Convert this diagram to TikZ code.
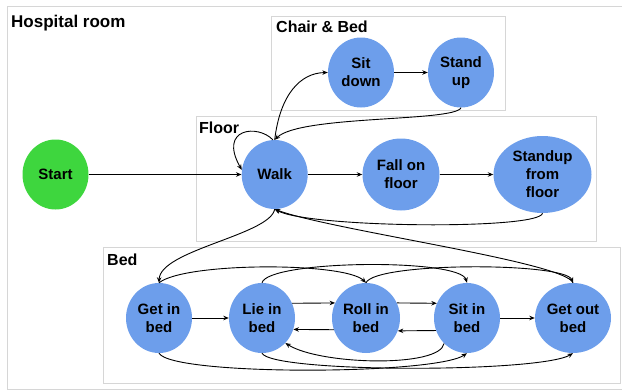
\documentclass[tikz,border=0pt]{standalone}
\usepackage{fontspec}
\setmainfont{Liberation Sans}
\usetikzlibrary{shapes.geometric,arrows.meta}
\definecolor{nodeblue}{RGB}{109,158,235}
\definecolor{startgreen}{RGB}{62,214,62}
\definecolor{boxgray}{RGB}{214,214,214}
\newcommand\nodefont{\fontsize{15}{18}\selectfont\bfseries}
\newcommand\grpfont{\fontsize{16}{19}\selectfont\bfseries}
\begin{document}
\begin{tikzpicture}[x=1pt,y=-1pt,
  state/.style={ellipse, fill=nodeblue, inner sep=0pt, align=center, font=\nodefont,
                minimum width=66pt, minimum height=70pt},
  grp/.style={draw=boxgray, line width=1pt},
  grplabel/.style={anchor=base west, inner sep=0pt, font=\grpfont},
  edge/.style={-{Stealth[length=5.5pt,width=4.5pt]}, line width=0.9pt, black},
]
\useasboundingbox (0,0) rectangle (622,391);
% group boxes
\draw[grp] (7,6) rectangle (626,389.5);
\draw[grp] (271,16) rectangle (505.5,110);
\draw[grp] (196,116.5) rectangle (596.5,241.5);
\draw[grp] (103,247.5) rectangle (620.5,383.5);
% labels
\node[grplabel, font=\fontsize{17}{20}\selectfont\bfseries] (hosp) at (11,27) {Hospital room};
\node[grplabel] (lchair) at (276,32) {Chair \& Bed};
\node[grplabel] (lfloor) at (199,133) {Floor};
\node[grplabel] (lbed) at (107,265) {Bed};
% nodes
\node[state, fill=startgreen] (start) at (55.5,174.5) {Start};
\node[state, minimum height=69pt] (walk) at (274.7,174.5) {Walk};
\node[state, minimum width=77pt, minimum height=72pt] (fall) at (401,174.5) {Fall on\\floor};
\node[state, minimum width=98pt, minimum height=77pt] (suf) at (542.5,174.5) {Standup\\from\\floor};
\node[state] (sitdown) at (361,72.5) {Sit\\down};
\node[state] (standup) at (461,72.5) {Stand\\up};
\node[state] (getin) at (159,318) {Get in\\bed};
\node[state] (lie) at (262,318) {Lie in\\bed};
\node[state, minimum width=68pt] (roll) at (366,318) {Roll in\\bed};
\node[state] (sitin) at (467,318) {Sit in\\bed};
\node[state, minimum width=76pt] (getout) at (573,318) {Get out\\bed};
% floor edges
\draw[edge] (start.east) -- (walk.west);
\draw[edge] (walk.east) -- (fall.west);
\draw[edge] (fall.east) -- (suf.west);
\draw[edge] (walk.93) .. controls (258,124) and (218,128) .. (walk.172);
\draw[edge] (suf.south) .. controls (540,230) and (310,228) .. (walk.south);
% chair edges
\draw[edge] (walk.north) .. controls (280,95) and (300,73) .. (sitdown.west);
\draw[edge] (sitdown.east) -- (standup.west);
\draw[edge] (standup.south) .. controls (455,122) and (300,115) .. (walk.north);
% floor <-> bed
\draw[edge] (walk.south) .. controls (270,235) and (160,250) .. (getin.north);
\draw[edge] (getout.north) .. controls (565,262) and (330,230) .. (walk.south);
% bed edges
\draw[edge] (getin.east) -- (lie.west);
\draw[edge] (lie.26) -- (roll.154);
\draw[edge] (roll.-160) -- (lie.-20);
\draw[edge] (roll.26) -- (sitin.154);
\draw[edge] (sitin.-158) -- (roll.-22);
\draw[edge] (sitin.east) -- (getout.west);
\draw[edge] (getin.north) .. controls (185,262) and (345,262) .. (roll.north);
\draw[edge] (lie.north) .. controls (268,260) and (460,258) .. (sitin.north);
\draw[edge] (roll.north) .. controls (375,262) and (565,262) .. (getout.north);
\draw[edge] (sitin.228) .. controls (440,368) and (320,365) .. (lie.-47);
\draw[edge] (getin.south) .. controls (172,376) and (435,375) .. (sitin.south);
\draw[edge] (lie.south) .. controls (272,373) and (540,373) .. (getout.south);
\end{tikzpicture}
\end{document}
